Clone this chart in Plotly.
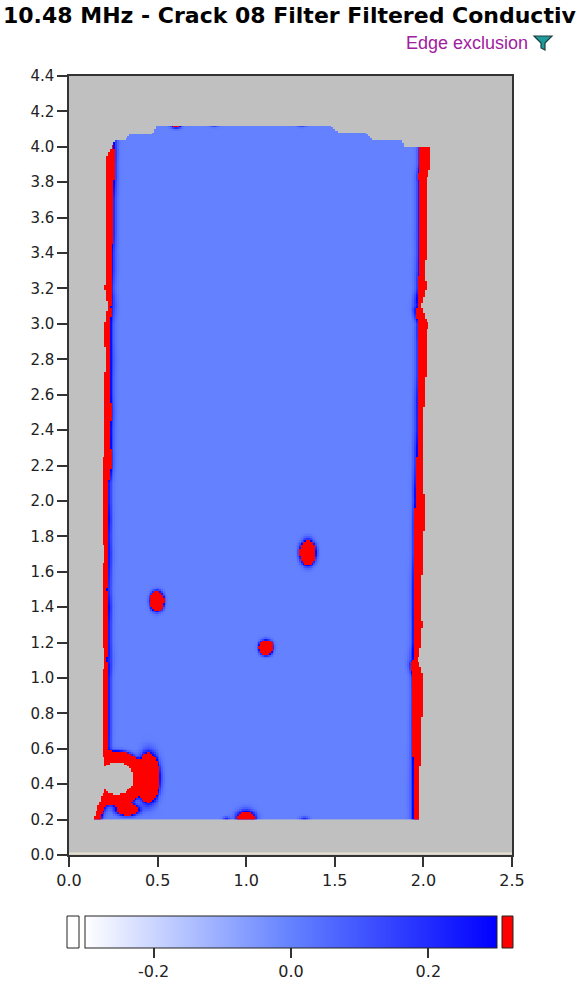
import numpy as np
import plotly.graph_objects as go

# ---- measured field description -------------------------------------------
# sample heights for the left / right edge profiles
edge_y = [0.2, 0.3, 0.4, 0.5, 0.6, 0.7, 0.8, 0.9, 1.0, 1.1, 1.2, 1.3, 1.4, 1.5,
          1.6, 1.7, 1.8, 1.9, 2.0, 2.1, 2.2, 2.3, 2.4, 2.5, 2.6, 2.7, 2.8, 2.9,
          3.0, 3.1, 3.2, 3.3, 3.4, 3.5, 3.6, 3.7, 3.8, 3.9, 4.0, 4.1]
# left boundary of the scanned area and conductivity peak on that edge
left_x = [0.135, 0.175, 0.215, 0.205, 0.185, 0.186, 0.186, 0.186, 0.186, 0.203,
          0.192, 0.192, 0.192, 0.192, 0.192, 0.198, 0.192, 0.192, 0.192, 0.192,
          0.192, 0.198, 0.203, 0.203, 0.203, 0.203, 0.209, 0.203, 0.203, 0.220,
          0.203, 0.214, 0.214, 0.214, 0.214, 0.214, 0.214, 0.209, 0.220, 0.220]
left_peak = [1.0, 1.07, 0.9, 0.9, 0.73, 0.73, 0.73, 0.73, 0.73, 0.31,
             0.53, 0.53, 0.65, 0.44, 0.53, 0.44, 0.53, 0.65, 0.53, 0.53,
             1.47, 0.81, 0.58, 0.73, 0.58, 0.58, 0.44, 0.58, 0.58, 0.35,
             0.73, 0.53, 0.53, 0.73, 0.73, 0.73, 1.07, 1.70, 0.73, 0.73]
# right boundary of the scanned area and conductivity peak on that edge
right_x = [1.985, 1.981, 1.981, 1.985, 1.990, 1.990, 1.996, 2.000, 2.003, 1.971,
           1.990, 1.996, 1.990, 1.990, 1.996, 2.003, 2.003, 2.009, 2.009, 2.000,
           2.003, 2.000, 2.003, 2.003, 2.009, 2.015, 2.015, 2.019, 2.028, 1.990,
           2.019, 2.009, 2.019, 2.015, 2.019, 2.019, 2.019, 2.041, 2.041, 2.041]
right_peak = [0.95, 0.73, 0.73, 0.95, 1.47, 1.47, 2.45, 3.44, 5.3, 0.44,
              1.07, 1.70, 1.07, 1.07, 1.47, 1.98, 1.98, 3.44, 2.45, 1.07,
              0.95, 0.73, 0.65, 0.65, 0.95, 1.07, 1.07, 1.47, 3.44, 0.36,
              1.47, 0.58, 1.07, 0.81, 1.07, 1.07, 1.07, 5.3, 5.3, 5.3]
# stepped top outline of the scanned area
top_x = [0.19, 0.26, 0.306, 0.344, 0.467, 0.495, 1.473, 1.529, 1.68, 1.717, 1.877, 1.896, 2.06]
top_y = [3.90, 4.035, 4.035, 4.07, 4.07, 4.12, 4.12, 4.076, 4.076, 4.035, 4.035, 4.0, 4.0]
bottom_y = 0.2

# excluded notch in the lower-left corner (centre, radii, rim peak)
notch = dict(x=0.270, y=0.432, rx=0.095, ry=0.090, peak=6.0)

# localised indications: centre, spread and peak conductivity
spot_x = [1.349, 1.113, 0.497, 0.449, 0.330, 0.605, 0.820, 1.315, 1.000, 0.890, 1.330]
spot_y = [1.707, 1.171, 1.433, 0.435, 0.255, 4.125, 4.125, 4.125, 0.200, 0.200, 0.200]
spot_sx = [0.030, 0.026, 0.026, 0.040, 0.050, 0.025, 0.025, 0.025, 0.044, 0.020, 0.025]
spot_sy = [0.047, 0.028, 0.037, 0.088, 0.025, 0.017, 0.012, 0.012, 0.041, 0.015, 0.015]
spot_peak = [3.0, 3.0, 3.0, 4.0, 1.5, 0.8, 0.28, 0.28, 1.0, 0.25, 0.25]

edge_width = 0.036
z_min, z_max = -0.3, 0.3
cbar_ticks = [-0.2, 0.0, 0.2]
x_ticks = [0.0, 0.5, 1.0, 1.5, 2.0, 2.5]
y_ticks = [round(0.2 * i, 1) for i in range(23)]

title_text = "10.48 MHz - Crack 08 Filter Filtered Conductiv"

# ---- build the gridded field -----------------------------------------------
step = 0.01
xs = np.round(np.arange(0.105, 2.1, step), 4)
ys = np.round(np.arange(0.205, 4.2, step), 4)
X, Y = np.meshgrid(xs, ys)

xl = np.interp(ys, edge_y, left_x)[:, None]
xr = np.interp(ys, edge_y, right_x)[:, None]
pl = np.interp(ys, edge_y, left_peak)[:, None]
pr = np.interp(ys, edge_y, right_peak)[:, None]
yt = np.interp(xs, top_x, top_y)[None, :]

rn = np.sqrt(((X - notch["x"]) / notch["rx"]) ** 2 + ((Y - notch["y"]) / notch["ry"]) ** 2)
inside = (X >= xl) & (X <= xr) & (Y >= bottom_y) & (Y <= yt) & (rn > 1.0)

z = np.zeros_like(X)
z += pl * np.exp(-((X - xl) / edge_width) ** 2)
z += pr * np.exp(-((xr - X) / edge_width) ** 2)
d_notch = np.clip(rn - 1.0, 0, None) * min(notch["rx"], notch["ry"])
z += notch["peak"] * np.exp(-(d_notch / edge_width) ** 2)
for cx, cy, sx, sy, pk in zip(spot_x, spot_y, spot_sx, spot_sy, spot_peak):
    z += pk * np.exp(-((X - cx) / sx) ** 2 - ((Y - cy) / sy) ** 2)

z_in = np.where(inside, np.clip(z, z_min, z_max), np.nan)
z_over = np.where(inside & (z > z_max), 1.0, np.nan)

# ---- figure ------------------------------------------------------------------
W, H = 580, 1002
L, R, T, B = 69, 68, 76, 147
pw, ph = W - L - R, H - T - B


def px(x):
    return (x - L) / pw


def py(y):
    return (H - B - y) / ph


axis_font = dict(family="DejaVu Sans", size=15, color="#222222")

fig = go.Figure()
fig.add_trace(go.Heatmap(
    x=xs, y=ys, z=z_in, zmin=z_min, zmax=z_max,
    colorscale=[[0.0, "#FFFFFF"], [0.5, "#6482FF"], [1.0, "#0000FF"]],
    hoverongaps=False,
    colorbar=dict(
        orientation="h", thickness=32, len=412, lenmode="pixels",
        x=px(291), xanchor="center", y=py(916), yanchor="top",
        xpad=0, ypad=0, outlinewidth=1, outlinecolor="#222222",
        tickvals=cbar_ticks, ticktext=[f"{v:.1f}" for v in cbar_ticks],
        ticks="outside", ticklen=10, tickwidth=1.5, tickcolor="#333333",
        tickfont=dict(family="DejaVu Sans", size=16, color="#222222"),
    ),
))
fig.add_trace(go.Heatmap(
    x=xs, y=ys, z=z_over, zmin=0, zmax=1,
    colorscale=[[0.0, "#FF0000"], [1.0, "#FF0000"]],
    showscale=False, hoverongaps=False,
))

shapes = [
    # under-range and over-range swatches beside the colour bar
    dict(type="rect", xref="paper", yref="paper", x0=px(67), x1=px(79),
         y0=py(948), y1=py(916), fillcolor="#FFFFFF", line=dict(color="#222222", width=1)),
    dict(type="rect", xref="paper", yref="paper", x0=px(502), x1=px(513),
         y0=py(948), y1=py(916), fillcolor="#FF0000", line=dict(color="#222222", width=1)),
    # filter icon next to the edge exclusion note
    dict(type="path", xref="paper", yref="paper",
         path=(f"M{px(534)},{py(36)} L{px(552)},{py(36)} L{px(545)},{py(43)} "
               f"L{px(545)},{py(50)} L{px(541)},{py(48)} L{px(541)},{py(43)} Z"),
         fillcolor="#1E9C9C", line=dict(color="#1E3C3C", width=1.2)),
    # light rim along the bottom of the plot area
    dict(type="line", xref="paper", yref="paper", x0=0, x1=1, y0=py(853.5), y1=py(853.5),
         line=dict(color="#E6E0D0", width=2)),
]

fig.update_layout(
    width=W, height=H, template="none",
    margin=dict(l=L, r=R, t=T, b=B, autoexpand=False),
    paper_bgcolor="#FFFFFF", plot_bgcolor="#C0C0C0",
    title=dict(text=title_text, x=3 / W, xanchor="left", xref="container",
               y=1 - 15 / H, yanchor="middle", yref="container",
               font=dict(family="DejaVu Sans", size=22, weight="bold", color="#000000")),
    shapes=shapes,
    annotations=[dict(text="Edge exclusion", xref="paper", yref="paper",
                      x=px(530), xanchor="right", y=py(43), yanchor="middle",
                      showarrow=False,
                      font=dict(family="Liberation Sans", size=18, color="#A020A0"))],
    showlegend=False,
)
fig.update_xaxes(range=[0, 2.5], tickvals=x_ticks, ticktext=[f"{v:.1f}" for v in x_ticks],
                 showgrid=False, zeroline=False, showline=True, mirror=True,
                 linecolor="#333333", linewidth=1.5, ticks="outside", ticklen=10,
                 tickwidth=1.5, tickcolor="#333333", automargin=False,
                 tickfont=dict(family="DejaVu Sans", size=16, color="#222222"))
fig.update_yaxes(range=[0, 4.4], tickvals=y_ticks, ticktext=[f"{v:.1f}" for v in y_ticks],
                 showgrid=False, zeroline=False, showline=True, mirror=True,
                 linecolor="#333333", linewidth=1.5, ticks="outside", ticklen=10,
                 tickwidth=1.5, tickcolor="#333333", automargin=False,
                 tickfont=axis_font)

fig.write_html("out.html")
